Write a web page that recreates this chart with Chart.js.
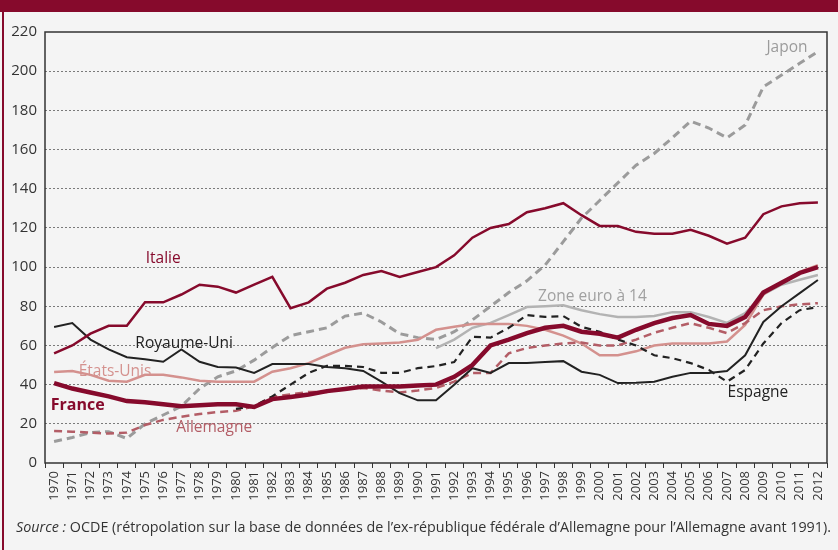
<!DOCTYPE html>
<html lang="fr">
<head>
<meta charset="utf-8">
<script src="https://cdn.jsdelivr.net/npm/chart.js@4.4.0/dist/chart.umd.min.js"></script>
<style>
    html, body { margin: 0; padding: 0; }
    body { width: 838px; height: 550px; background: #f4f4f4; position: relative; overflow: hidden; font-family: "Open Sans", sans-serif; }
    .band { position: absolute; left: 0; top: 0; width: 838px; height: 12px; background: #860a2c; }
    .edge { position: absolute; left: 2px; top: 12px; width: 2px; height: 538px; background: #860a2c; }
    #chart { position: absolute; left: 0; top: 0; }
    .source { position: absolute; left: 16px; top: 517px; font-size: 14px; color: #333; white-space: nowrap; transform-origin: left top; }
</style>
</head>
<body>
<div class="band"></div>
<div class="edge"></div>
<canvas id="chart" width="838" height="550"></canvas>
<div class="source" id="source"><i>Source :</i> OCDE (rétropolation sur la base de données de l’ex-république fédérale d’Allemagne pour l’Allemagne avant 1991).</div>
<script>
// Dette publique, % du PIB
const years = ['1970','1971','1972','1973','1974','1975','1976','1977','1978','1979',
    '1980','1981','1982','1983','1984','1985','1986','1987','1988','1989',
    '1990','1991','1992','1993','1994','1995','1996','1997','1998','1999',
    '2000','2001','2002','2003','2004','2005','2006','2007','2008','2009',
    '2010','2011','2012'];

const france = [40.8, 38, 36, 34, 31.6, 31, 30, 29, 29.5, 30,
    30, 28.6, 32.6, 33.7, 35, 36.7, 37.8, 39, 39, 39,
    39.5, 40, 44, 50, 60, 63, 66.3, 69, 70, 67,
    66, 64, 68, 71.4, 74, 75.5, 71, 70, 74.5, 87,
    92, 97, 100];

const italie = [56, 60, 66, 70, 70, 82, 82, 86, 91, 90,
    87, 91, 95, 79, 82, 89, 92, 96, 98, 95,
    97.5, 100, 106, 115, 120, 122, 128, 130, 132.6, 126.5,
    121, 121, 118, 117, 117, 119, 116, 112, 115, 127,
    131, 132.6, 133];

const royaumeUni = [69.4, 71.4, 63, 58, 54, 53, 51.7, 58, 51.7, 49,
    48.7, 46, 50.5, 50.5, 50.5, 49, 48.4, 47, 41.5, 35.7,
    32, 32, 40, 48.4, 46, 51, 51, 51.5, 52, 46.6,
    45, 40.8, 41, 41.5, 44, 46, 46, 47, 55, 72,
    80, 86.7, 93.4];

const etatsUnis = [46.4, 47, 45, 42, 41.5, 45, 45, 43.7, 42, 41.5,
    41.5, 41.5, 46.6, 48.4, 51, 55, 58.8, 60.6, 61, 61.5,
    62.9, 68, 69.5, 71, 71, 71, 70, 68, 65, 61,
    55, 55, 57, 60, 61, 61, 61, 62, 70.5, 86,
    92, 97.5, 101];

const allemagne = [16.3, 16, 15.5, 15, 15.5, 19.4, 22, 23.6, 25, 26,
    26.7, 29, 33.8, 35, 36.3, 36.3, 37.7, 38.3, 37, 36,
    37, 38.3, 41.5, 46, 46, 56, 58.7, 60, 61, 61.5,
    60, 60, 63, 66.5, 69, 71.4, 69, 66.3, 71.4, 78,
    80, 81, 81.6];

const espagne = [null, null, null, null, null, null, null, null, null, null,
    27.6, 29, 34, 40, 46, 49.6, 49.6, 49, 46, 46,
    48.4, 49.5, 51.5, 64.4, 64, 69, 75.5, 74.6, 75, 69.5,
    67, 63, 60, 55, 53.5, 51, 47.5, 41.5, 47.5, 61,
    71.4, 78, 79.6];

const japon = [11, 13, 15.5, 16, 12.5, 20, 24.5, 29, 38, 44,
    47, 52.5, 59, 65, 67, 69, 75, 76.5, 72, 66,
    64, 63, 67, 73, 80, 87, 93, 101, 113, 125,
    134, 143, 152, 158, 166, 174.5, 171, 166, 172.5, 192,
    198, 204, 210];

const zoneEuro = [null, null, null, null, null, null, null, null, null, null,
    null, null, null, null, null, null, null, null, null, null,
    null, 58.6, 63, 69, 71.5, 75.5, 79.6, 80, 80.5, 78,
    76, 74.5, 74.5, 75, 77, 77, 74.5, 71.5, 76.5, 86,
    91, 93.5, 96];

const yTicks = [0, 20, 40, 60, 80, 100, 120, 140, 160, 180, 200, 220];

// series names placed on the chart (x = year index, y = value)
const seriesLabels = [
    { text: 'Japon', x: 40.3, y: 212, color: '#9b9b9b', bold: false },
    { text: 'Italie', x: 6.0, y: 104.6, color: '#860a2c', bold: false },
    { text: 'Zone euro à 14', x: 29.6, y: 85.2, color: '#a0a0a0', bold: false },
    { text: 'Royaume-Uni', x: 7.15, y: 61.2, color: '#222222', bold: false },
    { text: 'États-Unis', x: 3.35, y: 46.9, color: '#d4918e', bold: false },
    { text: 'France', x: 1.3, y: 29.6, color: '#860a2c', bold: true },
    { text: 'Allemagne', x: 8.8, y: 17.9, color: '#b35d66', bold: false },
    { text: 'Espagne', x: 38.7, y: 36.2, color: '#222222', bold: false }
];

const line = (data, color, width, dash) => ({
    data: data,
    borderColor: color,
    borderWidth: width,
    borderDash: dash || [],
    pointRadius: 0,
    tension: 0,
    fill: false,
    spanGaps: false
});

const framePlugin = {
    id: 'frame',
    afterDraw(chart) {
        const { ctx, chartArea: a } = chart;
        ctx.save();
        ctx.strokeStyle = '#333';
        ctx.lineWidth = 1.5;
        ctx.strokeRect(a.left, a.top, a.right - a.left, a.bottom - a.top);
        ctx.restore();
    }
};

const labelPlugin = {
    id: 'seriesLabels',
    afterDatasetsDraw(chart) {
        const { ctx, scales } = chart;
        ctx.save();
        ctx.textAlign = 'center';
        ctx.textBaseline = 'middle';
        seriesLabels.forEach(l => {
            ctx.font = (l.bold ? 'bold 16px' : '15.5px') + ' "Open Sans", sans-serif';
            ctx.fillStyle = l.color;
            ctx.fillText(l.text, scales.x.getPixelForValue(l.x), scales.y.getPixelForValue(l.y));
        });
        ctx.restore();
    }
};

new Chart(document.getElementById('chart'), {
    type: 'line',
    data: {
        labels: years,
        datasets: [
            line(france, '#860a2c', 4.5),
            line(italie, '#860a2c', 2.5),
            line(espagne, '#222222', 2.2, [7, 5]),
            line(royaumeUni, '#222222', 2),
            line(allemagne, '#b35d66', 2.5, [8, 5]),
            line(etatsUnis, '#d4918e', 2.5),
            line(zoneEuro, '#b3b3b3', 2.5),
            line(japon, '#9b9b9b', 3, [8, 5])
        ]
    },
    options: {
        responsive: false,
        animation: false,
        devicePixelRatio: 1,
        layout: { padding: { top: 32, right: 11, bottom: 42, left: 0 } },
        plugins: { legend: { display: false }, tooltip: { enabled: false } },
        scales: {
            x: {
                offset: true,
                grid: { offset: true, drawOnChartArea: false, drawTicks: true, tickLength: 5, tickColor: '#333', tickWidth: 1 },
                border: { display: false },
                ticks: {
                    autoSkip: false, minRotation: 90, maxRotation: 90, padding: 3,
                    color: '#333', font: { family: '"Open Sans", sans-serif', size: 13 }
                },
                afterFit(scale) { scale.height = 45; }
            },
            y: {
                min: 0,
                max: 220,
                afterBuildTicks(scale) { scale.ticks = yTicks.map(v => ({ value: v })); },
                grid: {
                    drawTicks: false,
                    lineWidth: 1,
                    color: c => (c.tick.value === 0 || c.tick.value === 220) ? 'rgba(0,0,0,0)' : '#7a7a7a'
                },
                border: { display: false, dash: [2, 2] },
                ticks: { padding: 8, color: '#333', font: { family: '"Open Sans", sans-serif', size: 15 } },
                afterFit(scale) { scale.width = 45; }
            }
        }
    },
    plugins: [framePlugin, labelPlugin]
});

// squeeze the source line to the width of the original condensed face
const src = document.getElementById('source');
const w = src.getBoundingClientRect().width;
src.style.transform = 'scaleX(' + (815 / w) + ')';
</script>
</body>
</html>
